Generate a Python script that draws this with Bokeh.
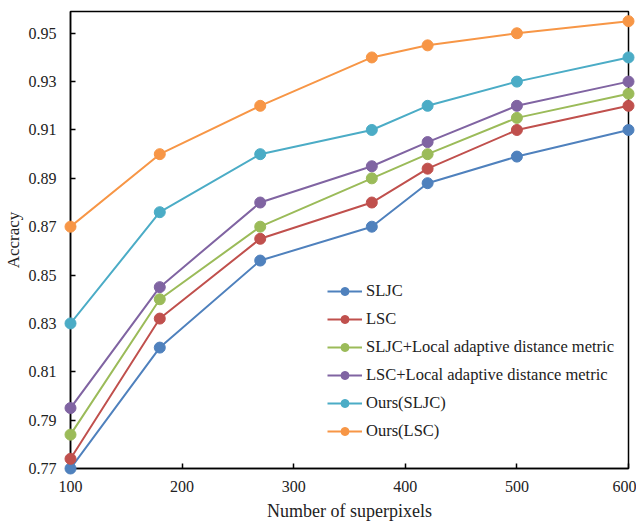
from bokeh.plotting import figure
from bokeh.models import FixedTicker, PrintfTickFormatter, Range1d, Legend
from bokeh.embed import file_html
from bokeh.resources import INLINE

x_vals = [100, 180, 270, 370, 420, 500, 600]
sljc = [0.770, 0.820, 0.856, 0.870, 0.888, 0.899, 0.910]
lsc = [0.774, 0.832, 0.865, 0.880, 0.894, 0.910, 0.920]
sljc_local = [0.784, 0.840, 0.870, 0.890, 0.900, 0.915, 0.925]
lsc_local = [0.795, 0.845, 0.880, 0.895, 0.905, 0.920, 0.930]
ours_sljc = [0.830, 0.876, 0.900, 0.910, 0.920, 0.930, 0.940]
ours_lsc = [0.870, 0.900, 0.920, 0.940, 0.945, 0.950, 0.955]

series_names = ["SLJC", "LSC", "SLJC+Local adaptive distance metric",
                "LSC+Local adaptive distance metric", "Ours(SLJC)", "Ours(LSC)"]
series_values = [sljc, lsc, sljc_local, lsc_local, ours_sljc, ours_lsc]
colors = ["#4F81BD", "#C0504D", "#9BBB59", "#8064A2", "#4BACC6", "#F79646"]

x_ticks = [100, 200, 300, 400, 500, 600]
y_ticks = [0.77, 0.79, 0.81, 0.83, 0.85, 0.87, 0.89, 0.91, 0.93, 0.95]

FONT = "Liberation Serif"

p = figure(width=636, height=524, output_backend="svg", toolbar_location=None,
           x_range=Range1d(100, 600), y_range=Range1d(0.77, 0.959),
           min_border_left=62, min_border_right=8, min_border_top=11, min_border_bottom=56)
p.background_fill_color = "white"
p.border_fill_color = "white"
p.xgrid.visible = False
p.ygrid.visible = False
p.outline_line_color = "black"
p.outline_line_width = 1.5
p.outline_line_alpha = 1.0

items = []
for name, vals, c in zip(series_names, series_values, colors):
    r1 = p.line(x_vals, vals, line_color=c, line_width=2)
    r2 = p.scatter(x_vals, vals, size=11, fill_color=c, line_color=c, marker="circle", level="overlay")
    items.append((name, [r1, r2]))

legend = Legend(items=items, location=(257, 27), glyph_width=35, glyph_height=20,
                label_height=20, spacing=8, label_standoff=4, padding=0, margin=0,
                border_line_color=None, background_fill_alpha=0,
                label_text_font=FONT, label_text_font_size="16.5px", label_text_color="#222222")
p.add_layout(legend, "center")

for ax in (p.xaxis[0], p.yaxis[0]):
    ax.axis_line_color = "black"
    ax.axis_line_width = 1.5
    ax.major_tick_line_color = "black"
    ax.major_tick_line_width = 1.5
    ax.major_tick_in = 5
    ax.major_tick_out = 0
    ax.minor_tick_line_color = None
    ax.major_label_text_font = FONT
    ax.major_label_text_font_size = "16px"
    ax.major_label_text_color = "#222222"
    ax.axis_label_text_font = FONT
    ax.axis_label_text_font_style = "normal"
    ax.axis_label_text_color = "#222222"

p.xaxis[0].axis_label_text_font_size = "18px"
p.yaxis[0].axis_label_text_font_size = "17px"
p.xaxis[0].ticker = FixedTicker(ticks=x_ticks)
p.yaxis[0].ticker = FixedTicker(ticks=y_ticks)
p.yaxis[0].formatter = PrintfTickFormatter(format="%.2f")
p.xaxis[0].axis_label = "Number of superpixels"
p.yaxis[0].axis_label = "Accracy"
p.xaxis[0].major_label_standoff = 12
p.xaxis[0].axis_label_standoff = 6
p.yaxis[0].major_label_standoff = 14
p.yaxis[0].axis_label_standoff = 3

open("out.html", "w").write(file_html(p, INLINE))
